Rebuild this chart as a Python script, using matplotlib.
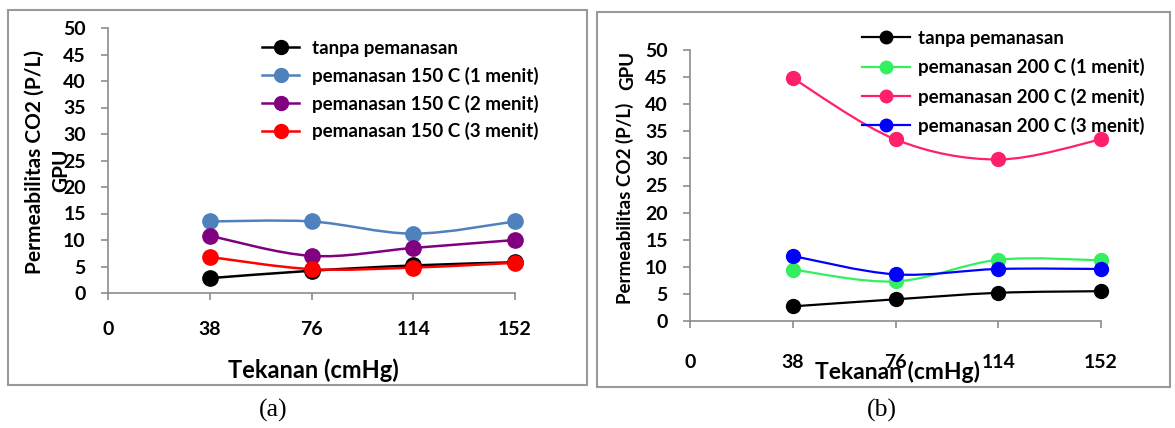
import matplotlib
matplotlib.use("Agg")
import matplotlib.pyplot as plt
from matplotlib.path import Path
from matplotlib.patches import PathPatch, Rectangle
import numpy as np

# データ
tekanan = [38, 76, 114, 152]
xticks = [0, 38, 76, 114, 152]
yticks = [0, 5, 10, 15, 20, 25, 30, 35, 40, 45, 50]

# (a) 150 C
tanpa_a = [2.8, 4.2, 5.2, 5.8]
c150_1 = [13.5, 13.5, 11.2, 13.5]
c150_2 = [10.8, 7.0, 8.5, 10.0]
c150_3 = [6.8, 4.5, 4.8, 5.7]

# (b) 200 C
tanpa_b = [2.7, 4.0, 5.2, 5.5]
c200_1 = [9.5, 7.3, 11.3, 11.2]
c200_2 = [44.8, 33.5, 29.8, 33.5]
c200_3 = [12.0, 8.6, 9.6, 9.6]

labels_a = ["tanpa pemanasan", "pemanasan 150 C (1 menit)",
            "pemanasan 150 C (2 menit)", "pemanasan 150 C (3 menit)"]
labels_b = ["tanpa pemanasan", "pemanasan 200 C (1 menit)",
            "pemanasan 200 C (2 menit)", "pemanasan 200 C (3 menit)"]

colors_a = ["black", "#4F81BD", "#800080", "#FF0000"]
colors_b = ["black", "#33F060", "#FF1F6A", "#0000FF"]

plt.rcParams['font.family'] = ['Lato', 'DejaVu Sans']
plt.rcParams['font.weight'] = 'bold'

W, H = 1175, 428
fig = plt.figure(figsize=(W / 100, H / 100), dpi=100)


def smooth_line(ax, xs, ys, color, lw):
    # Excel風のなめらかな線 (Catmull-Rom -> Bezier)
    p = np.column_stack([xs, ys]).astype(float)
    pts = np.vstack([p[0], p, p[-1]])
    verts = [tuple(p[0])]
    codes = [Path.MOVETO]
    for i in range(1, len(pts) - 2):
        c1 = pts[i] + (pts[i + 1] - pts[i - 1]) / 6
        c2 = pts[i + 1] - (pts[i + 2] - pts[i]) / 6
        verts += [tuple(c1), tuple(c2), tuple(pts[i + 1])]
        codes += [Path.CURVE4] * 3
    ax.add_patch(PathPatch(Path(verts, codes), fill=False, edgecolor=color,
                           lw=lw, clip_on=False, zorder=2))


def setup(ax, series, colors, ms, lw, pad):
    for ys, col in zip(series, colors):
        smooth_line(ax, tekanan, ys, col, lw)
        ax.plot(tekanan, ys, marker='o', color=col, ms=ms, linestyle='none',
                clip_on=False, zorder=3)
    ax.set_xlim(0, 152)
    ax.set_ylim(0, 50)
    ax.set_xticks(xticks)
    ax.set_yticks(yticks)
    for s in ['top', 'right']:
        ax.spines[s].set_visible(False)
    for s in ['left', 'bottom']:
        ax.spines[s].set_color('#8C8C8C')
        ax.spines[s].set_linewidth(1.2)
    ax.tick_params(axis='both', colors='#8C8C8C', length=5, width=1.2,
                   labelcolor='black', labelsize=14)
    ax.tick_params(axis='y', pad=11)
    ax.tick_params(axis='x', pad=pad)


# (a)
ax1 = fig.add_axes([108 / W, 1 - 293 / H, 407 / W, 265 / H])
setup(ax1, [tanpa_a, c150_1, c150_2, c150_3], colors_a, 11, 1.8, 15)
ax1.set_xlabel("Tekanan (cmHg)", fontsize=17, fontweight='bold', va='center')
ax1.xaxis.set_label_coords(0.504, -0.29)
ax1.text(-0.18, 0.494, "Permeabilitas CO2 (P/L)", transform=ax1.transAxes,
         rotation=90, ha='center', va='center', fontsize=15, fontweight='bold')
ax1.text(-0.115, 0.465, "GPU", transform=ax1.transAxes,
         rotation=90, ha='center', va='center', fontsize=15, fontweight='bold')

h1 = [plt.Line2D([], [], color=c, marker='o', ms=10, lw=1.8) for c in colors_a]
ax1.legend(h1, labels_a, loc='upper left', bbox_to_anchor=(0.378, 0.955),
           frameon=False, fontsize=13.5, handlelength=2.0, handletextpad=0.65,
           labelspacing=0.52, borderaxespad=0, borderpad=0)

# (b)
ax2 = fig.add_axes([690 / W, 1 - 321 / H, 411 / W, 271 / H])
setup(ax2, [tanpa_b, c200_1, c200_2, c200_3], colors_b, 10, 1.6, 19)
ax2.set_xlabel("Tekanan (cmHg)", fontsize=16.5, fontweight='bold', va='center')
ax2.xaxis.set_label_coords(0.504, -0.188)
ax2.text(-0.158, 0.435, "Permeabilitas CO2 (P/L)", transform=ax2.transAxes,
         rotation=90, ha='center', va='center', fontsize=13.5, fontweight='bold')
ax2.text(-0.152, 0.926, "GPU", transform=ax2.transAxes,
         rotation=90, ha='center', va='center', fontsize=13.5, fontweight='bold')

h2 = [plt.Line2D([], [], color=c, marker='o', ms=9, lw=1.6) for c in colors_b]
ax2.legend(h2, labels_b, loc='upper left', bbox_to_anchor=(0.418, 1.074),
           frameon=False, fontsize=13.5, handlelength=2.55, handletextpad=0.43,
           labelspacing=0.6, borderaxespad=0, borderpad=0)

# 枠線
fig.add_artist(Rectangle((8 / W, 1 - 385 / H), 579 / W, 375 / H,
                         transform=fig.transFigure, fill=False,
                         edgecolor='#999999', lw=1.5))
fig.add_artist(Rectangle((597 / W, 1 - 387 / H), 573 / W, 375 / H,
                         transform=fig.transFigure, fill=False,
                         edgecolor='#999999', lw=1.5))

# キャプション
fig.text(273 / W, 1 - 410 / H, "(a)", ha='center', va='center',
         fontsize=18.5, family='Liberation Serif', fontweight='normal')
fig.text(882 / W, 1 - 410 / H, "(b)", ha='center', va='center',
         fontsize=18.5, family='Liberation Serif', fontweight='normal')

fig.savefig("out.png", dpi=100)
